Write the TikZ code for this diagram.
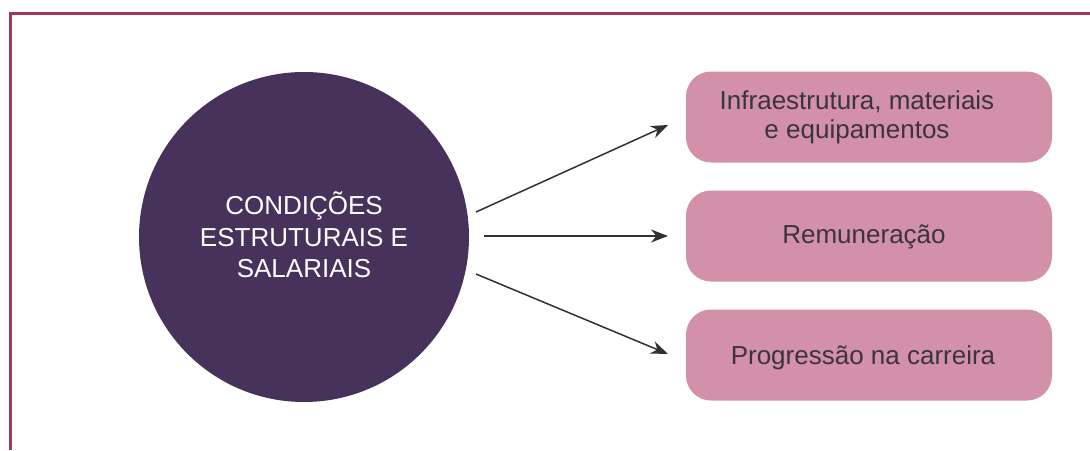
\documentclass[tikz,border=0pt]{standalone}
\usepackage{fontspec}
\setmainfont{Liberation Sans}
\usetikzlibrary{arrows.meta}
\definecolor{frame}{HTML}{A3385E}
\definecolor{circ}{HTML}{46325A}
\definecolor{boxc}{HTML}{D291A8}
\definecolor{txt}{HTML}{3B3340}
\definecolor{arr}{HTML}{333035}
\tikzset{
  itembox/.style={fill=boxc, rounded corners=25pt, minimum width=366pt, minimum height=91pt, inner sep=0pt},
  itemtext/.style={text=txt, font=\fontsize{26}{29}\selectfont, align=center, inner sep=0pt},
  conn/.style={draw=arr, line width=1.5pt, -{Stealth[length=17pt,width=13pt]}}
}
\begin{document}
\begin{tikzpicture}[x=1pt,y=-1pt]
\useasboundingbox (0,0) rectangle (1090,450);
\draw[frame, line width=3pt] (10,450) -- (10,13) -- (1090,13);
\node[circle, fill=circ, minimum size=330pt, inner sep=0pt] (c) at (304,237) {};
\node[text=white, align=center, inner sep=0pt, font=\fontsize{26}{31.5}\selectfont] (ct) at (304,235) {CONDIÇÕES\\ESTRUTURAIS E\\SALARIAIS};
\node[itembox] (b1) at (869,117) {};
\node[itembox] (b2) at (869,236) {};
\node[itembox] (b3) at (869,355) {};
\node[itemtext] (t1) at (857,117) {Infraestrutura, materiais\\e equipamentos};
\node[itemtext] (t2) at (864,237) {Remuneração};
\node[itemtext] (t3) at (863,358) {Progressão na carreira};
\coordinate (s1) at (476,212);
\coordinate (s2) at (484,236);
\coordinate (s3) at (476,274);
\coordinate (e1) at (668,125);
\coordinate (e2) at (668,236);
\coordinate (e3) at (668,354);
\draw[conn] (s1) -- (e1);
\draw[conn] (s2) -- (e2);
\draw[conn] (s3) -- (e3);
\end{tikzpicture}
\end{document}
